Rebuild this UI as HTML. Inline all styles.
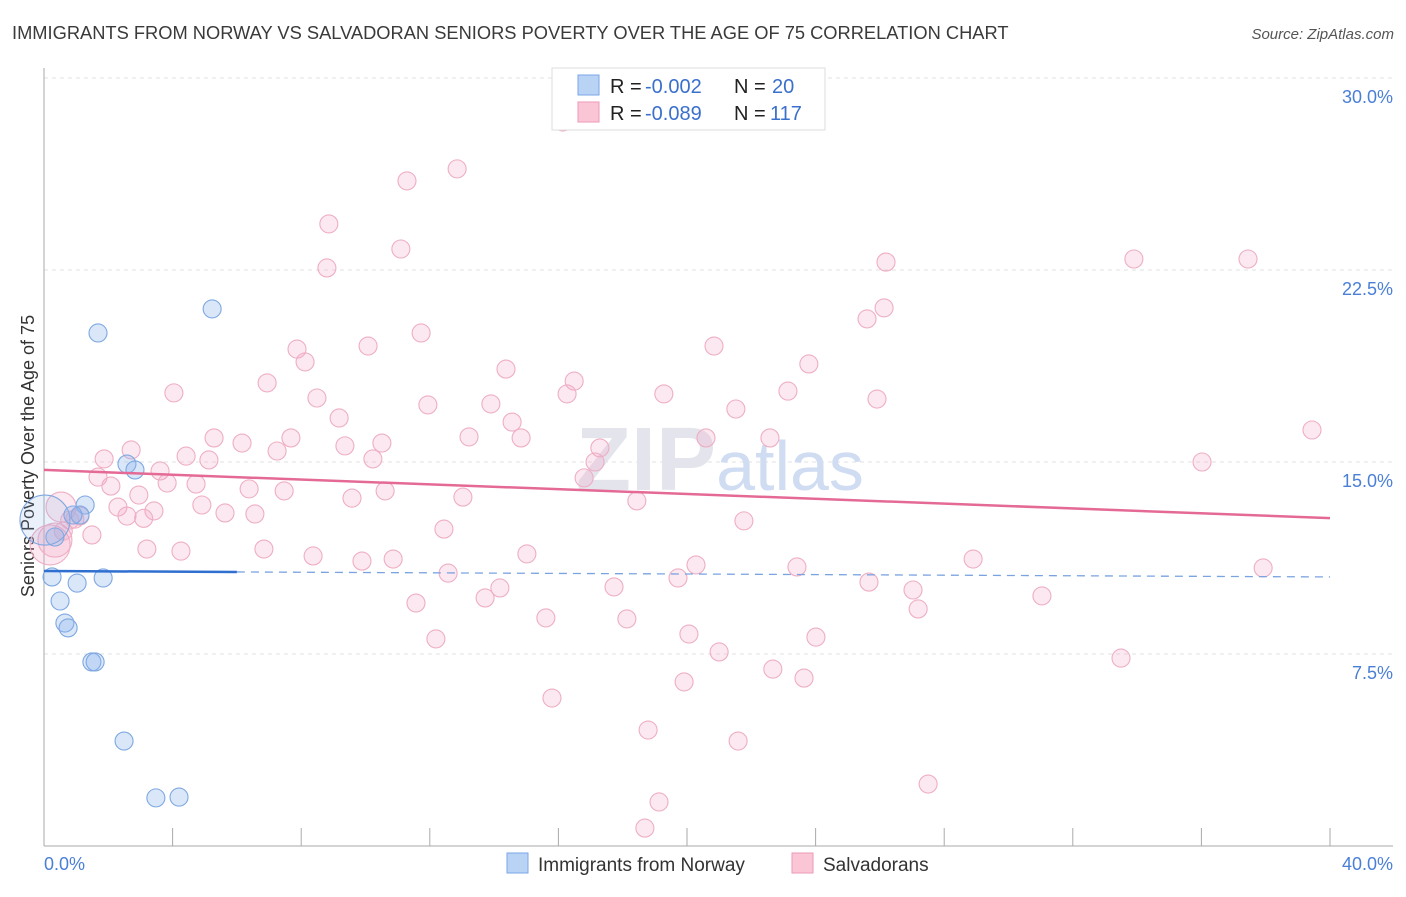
<!DOCTYPE html>
<html><head><meta charset="utf-8"><style>
body{margin:0;background:#fff;font-family:"Liberation Sans",sans-serif}
svg text{font-family:"Liberation Sans",sans-serif}
</style></head><body>
<svg id="c" width="1406" height="892" viewBox="0 0 1406 892" xmlns="http://www.w3.org/2000/svg">
<text x="12" y="39" font-size="18.3" fill="#3a3a3a">IMMIGRANTS FROM NORWAY VS SALVADORAN SENIORS POVERTY OVER THE AGE OF 75 CORRELATION CHART</text>
<text x="1394" y="39" font-size="15" fill="#555" font-style="italic" text-anchor="end">Source: ZipAtlas.com</text>
<g id="grid"></g>
<text x="720" y="490" font-size="90" fill="#e4e4ec" text-anchor="middle" font-weight="bold">ZIP<tspan fill="#cfdcf2" font-weight="normal" font-size="70">atlas</tspan></text>
<text transform="translate(34,456) rotate(-90)" font-size="18" fill="#333" text-anchor="middle">Seniors Poverty Over the Age of 75</text>
<g id="pts"></g>
<g id="trend"></g>
<g>
<rect x="552" y="68" width="273" height="62" fill="#fff" stroke="#ddd"/>
<rect x="578" y="75" width="21" height="20" fill="#b9d3f5" stroke="#7aa6e6"/>
<rect x="578" y="102" width="21" height="20" fill="#fac6d6" stroke="#ec9ab5"/>
<text x="610" y="93" font-size="20" fill="#222">R =</text>
<text x="645" y="93" font-size="20" fill="#3a70cc">-0.002</text>
<text x="734" y="93" font-size="20" fill="#222">N =</text>
<text x="772" y="93" font-size="20" fill="#3a70cc">20</text>
<text x="610" y="120" font-size="20" fill="#222">R =</text>
<text x="645" y="120" font-size="20" fill="#3a70cc">-0.089</text>
<text x="734" y="120" font-size="20" fill="#222">N =</text>
<text x="770" y="120" font-size="20" fill="#3a70cc">117</text>
</g>
<g>
<rect x="507" y="853" width="21" height="20" fill="#b9d3f5" stroke="#7aa6e6"/>
<text x="538" y="871" font-size="19" fill="#333">Immigrants from Norway</text>
<rect x="792" y="853" width="21" height="20" fill="#fac6d6" stroke="#ec9ab5"/>
<text x="823" y="871" font-size="19" fill="#333">Salvadorans</text>
</g>
<text x="44" y="870" font-size="18" fill="#4a7fd6">0.0%</text>
<text x="1393" y="870" font-size="18" fill="#4a7fd6" text-anchor="end">40.0%</text>
</svg>
<script>
const yTicks=[7.5,15,22.5,30];
const yTickLabels=["7.5%","15.0%","22.5%","30.0%"];
const blueX=[1.68,5.23,2.58,2.83,1.28,1.12,0.34,0.25,1.03,1.84,0.50,0.65,0.75,1.49,1.59,2.49,3.48,4.20,0.03,0.9];
const blueY=[20.04,20.98,14.92,14.69,13.32,12.93,12.07,10.51,10.27,10.47,9.57,8.71,8.52,7.19,7.19,4.10,1.88,1.91,12.73,12.93];
const blueR=[9,9,9,9,9,9,9,9,9,9,9,9,9,9,9,9,9,9,25,9];
const pinkX=[16.14,12.85,11.29,8.86,11.10,8.80,26.19,33.90,37.45,25.60,26.13,11.73,10.08,7.87,8.12,20.84,14.37,23.79,16.49,16.27,4.04,6.94,8.49,19.28,23.14,25.91,11.94,13.90,9.18,21.52,14.56,5.29,6.16,7.68,9.36,10.51,13.22,14.84,20.59,22.58,17.29,2.71,1.87,4.42,5.13,10.23,7.25,17.14,36.02,39.44,3.61,1.68,3.83,4.73,6.38,7.47,10.61,9.58,13.03,16.80,18.44,2.95,2.08,2.30,3.42,4.91,5.63,6.56,2.58,0.53,0.96,1.12,1.49,0.34,21.77,12.44,3.20,4.26,6.84,8.37,9.89,10.86,15.02,20.28,23.42,19.72,28.90,37.92,25.66,12.57,14.18,17.73,27.03,11.57,13.72,27.19,31.04,15.61,18.13,20.06,24.01,12.19,21.00,33.50,22.67,23.64,19.91,15.80,18.79,21.59,27.50,19.13,18.69,0.8,0.19,0.6,3.1];
const pinkY=[28.28,26.45,25.98,24.30,23.32,22.58,22.81,22.93,22.93,20.59,21.02,20.04,19.53,19.41,18.91,19.53,18.63,18.83,18.16,17.66,17.70,18.09,17.50,17.66,17.77,17.46,17.23,17.27,16.72,17.07,16.56,15.94,15.74,15.94,15.63,15.74,15.98,15.94,15.94,15.94,15.55,15.47,15.12,15.23,15.08,15.12,15.43,15.00,15.00,16.25,14.65,14.41,14.18,14.14,13.95,13.87,13.87,13.59,13.63,14.38,13.48,13.71,14.06,13.24,13.09,13.32,13.01,12.97,12.89,13.24,12.77,12.89,12.15,11.95,12.70,12.38,11.60,11.52,11.60,11.33,11.13,11.21,11.41,10.98,10.90,10.47,11.21,10.86,10.31,10.66,10.08,10.12,10.00,9.49,9.69,9.26,9.77,8.91,8.87,8.28,8.16,8.09,7.58,7.34,6.91,6.56,6.41,5.78,4.53,4.10,2.42,1.72,0.70,12.73,11.76,12.3,12.8];
const pinkR=[];for(let i=0;i<pinkX.length;i++)pinkR.push(9);
pinkR[69]=15;pinkR[73]=17;pinkR[114]=20;
const pinkTrend=[14.69,12.81];
const blueTrend=[10.74,10.51];
const blueSolidEnd=6.0;
const NS="http://www.w3.org/2000/svg";
const X0=44,X1=1330,Y0=846,PY=25.6;
const sx=v=>X0+(X1-X0)*v/40, sy=v=>Y0-v*PY;
function mk(t,a,p){const e=document.createElementNS(NS,t);for(const k in a)e.setAttribute(k,a[k]);p.appendChild(e);return e;}
const grid=document.getElementById('grid');
yTicks.forEach((t,i)=>{
 const l=mk('line',{x1:X0,x2:1393,y1:sy(t),y2:sy(t),stroke:'#e2e2e2','stroke-dasharray':'4,4'},grid);
 
 
 const tx=mk('text',{x:1393,y:sy(t)+25,'font-size':18,fill:'#4a7fd6','text-anchor':'end'},grid);
 tx.textContent=yTickLabels[i];
 
 
});
const ax=mk('line',{x1:X0,x2:X0,y1:68,y2:846,stroke:'#aaa'},grid);


const xa=mk('line',{x1:X0,x2:1393,y1:846,y2:846,stroke:'#aaa'},grid);


for(let v=0;v<=40;v+=4){const tk=mk('line',{x1:sx(v),x2:sx(v),y1:828,y2:846,stroke:'#aaa'},grid);
 
 }
const pts=document.getElementById('pts');
pinkX.forEach((x,i)=>{const c=mk('circle',{cx:sx(x),cy:sy(pinkY[i]),r:pinkR[i],fill:'rgba(245,165,195,0.25)',stroke:'#eeaec4','stroke-width':1.1},pts);
 
 });
blueX.forEach((x,i)=>{const c=mk('circle',{cx:sx(x),cy:sy(blueY[i]),r:blueR[i],fill:blueR[i]>12?'rgba(140,180,235,0.18)':'rgba(140,180,235,0.32)',stroke:'#7ea8e2','stroke-width':1.1},pts);
 
 });
const tr=document.getElementById('trend');
const pl=mk('line',{x1:sx(0),y1:sy(pinkTrend[0]),x2:sx(40),y2:sy(pinkTrend[1]),stroke:'#e46a95','stroke-width':2.5},tr);


const bAt=v=>blueTrend[0]+(blueTrend[1]-blueTrend[0])*v/40;
const bs=mk('line',{x1:sx(0),y1:sy(bAt(0)),x2:sx(blueSolidEnd),y2:sy(bAt(blueSolidEnd)),stroke:'#2f6fd0','stroke-width':2.5},tr);


const bd=mk('line',{x1:sx(blueSolidEnd),y1:sy(bAt(blueSolidEnd)),x2:sx(40),y2:sy(bAt(40)),stroke:'#7aa3e0','stroke-width':1.3,'stroke-dasharray':'8,6'},tr);


</script>
</body></html>
